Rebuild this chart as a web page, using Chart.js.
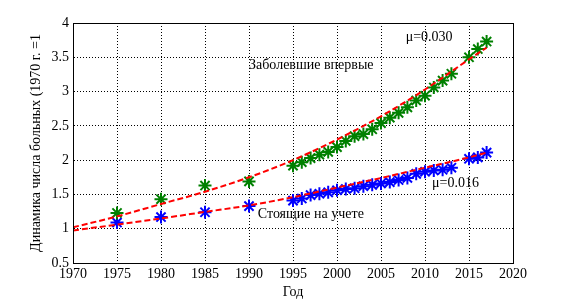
<!DOCTYPE html>
<html lang="ru">
<head>
<meta charset="UTF-8">
<title>Динамика числа больных</title>
<script src="https://cdn.jsdelivr.net/npm/chart.js"></script>
<style>
  html, body { margin: 0; padding: 0; background: #fff; }
</style>
</head>
<body>
<canvas id="grafico" width="568" height="304"></canvas>
<script>
// observed years and values (1970 = 1)
const years = [1975, 1980, 1985, 1990, 1995, 1996, 1997, 1998, 1999, 2000, 2001, 2002, 2003,
               2004, 2005, 2006, 2007, 2008, 2009, 2010, 2011, 2012, 2013, 2015, 2016, 2017];
const newCases = [1.23, 1.43, 1.63, 1.69, 1.92, 1.97, 2.03, 2.08, 2.12, 2.19, 2.28, 2.35, 2.38,
                  2.45, 2.54, 2.62, 2.69, 2.77, 2.87, 2.94, 3.06, 3.16, 3.26, 3.50, 3.62, 3.73];
const registered = [1.09, 1.17, 1.24, 1.33, 1.41, 1.44, 1.49, 1.51, 1.53, 1.56, 1.58, 1.59, 1.62,
                    1.64, 1.66, 1.68, 1.71, 1.74, 1.80, 1.83, 1.85, 1.86, 1.89, 2.02, 2.04, 2.11];

// fitted curves
const fitYears = [1970, 1975, 1980, 1985, 1990, 1995, 2000, 2005, 2010, 2015, 2017];
const fitNew = [1.02, 1.18, 1.36, 1.54, 1.75, 2.00, 2.30, 2.64, 3.03, 3.47, 3.64];
const fitRegistered = [0.975, 1.06, 1.15, 1.245, 1.34, 1.46, 1.60, 1.74, 1.89, 2.04, 2.11];

// axis ticks
const xTicks = [1970, 1975, 1980, 1985, 1990, 1995, 2000, 2005, 2010, 2015, 2020];
const yTicks = [0.5, 1, 1.5, 2, 2.5, 3, 3.5, 4];

// text labels inside the plot (data coordinates)
const labelTexts = ['Заболевшие впервые', 'μ=0.030', 'μ=0.016', 'Стоящие на учете'];
const labelX = [1990, 2007.8, 2010.8, 1991];
const labelY = [3.39, 3.79, 1.66, 1.21];

const serif = "'Liberation Serif', 'Times New Roman', serif";
const fontSize = 14;

function pairs(xs, ys) {
    return xs.map((x, i) => ({ x: x, y: ys[i] }));
}

const frameAndLabels = {
    id: 'frameAndLabels',
    afterDatasetsDraw(chart) {
        const { ctx, chartArea: a, scales } = chart;
        ctx.save();
        ctx.setLineDash([]);
        ctx.strokeStyle = '#000';
        ctx.lineWidth = 1;
        ctx.strokeRect(Math.round(a.left) + 0.5, Math.round(a.top) + 0.5,
                       Math.round(a.right - a.left), Math.round(a.bottom - a.top));
        ctx.fillStyle = '#000';
        ctx.font = fontSize + 'px ' + serif;
        ctx.textAlign = 'left';
        ctx.textBaseline = 'middle';
        labelTexts.forEach((t, i) => {
            ctx.fillText(t, scales.x.getPixelForValue(labelX[i]), scales.y.getPixelForValue(labelY[i]));
        });
        ctx.restore();
    }
};

const lineFit = {
    showLine: true,
    borderColor: '#ff0000',
    borderWidth: 2,
    borderDash: [6, 3],
    pointRadius: 0,
    cubicInterpolationMode: 'monotone',
    fill: false
};

new Chart(document.getElementById('grafico'), {
    type: 'scatter',
    data: {
        datasets: [
            Object.assign({ label: 'fit new', data: pairs(fitYears, fitNew) }, lineFit),
            Object.assign({ label: 'fit registered', data: pairs(fitYears, fitRegistered) }, lineFit),
            {
                label: 'Заболевшие впервые',
                data: pairs(years, newCases),
                pointStyle: 'star',
                pointRadius: 6.5,
                borderWidth: 2,
                borderColor: '#008000',
                backgroundColor: '#008000'
            },
            {
                label: 'Стоящие на учете',
                data: pairs(years, registered),
                pointStyle: 'star',
                pointRadius: 6.5,
                borderWidth: 2,
                borderColor: '#0000ff',
                backgroundColor: '#0000ff'
            }
        ]
    },
    options: {
        responsive: false,
        animation: false,
        devicePixelRatio: 1,
        layout: { padding: { top: 23, right: 55, left: 0, bottom: 0 } },
        plugins: { legend: { display: false }, tooltip: { enabled: false } },
        scales: {
            x: {
                type: 'linear',
                min: 1970,
                max: 2020,
                afterBuildTicks: s => { s.ticks = xTicks.map(v => ({ value: v })); },
                afterFit: s => { s.height = 41; },
                ticks: {
                    color: '#000',
                    padding: 3,
                    maxRotation: 0,
                    font: { family: serif, size: fontSize },
                    callback: v => String(v)
                },
                grid: { color: '#000', drawTicks: false },
                border: { color: '#000', dash: [1, 2] },
                title: {
                    display: true,
                    text: 'Год',
                    color: '#000',
                    font: { family: serif, size: fontSize },
                    padding: { top: 0, bottom: 3 }
                }
            },
            y: {
                min: 0.5,
                max: 4,
                afterBuildTicks: s => { s.ticks = yTicks.map(v => ({ value: v })); },
                afterFit: s => { s.width = 73; },
                ticks: {
                    color: '#000',
                    padding: 4,
                    font: { family: serif, size: fontSize },
                    callback: v => String(v)
                },
                grid: { color: '#000', drawTicks: false },
                border: { color: '#000', dash: [1, 2] },
                title: {
                    display: true,
                    text: 'Динамика числа больных (1970 г. =1',
                    color: '#000',
                    font: { family: serif, size: fontSize },
                    padding: { top: 28, bottom: 0 }
                }
            }
        }
    },
    plugins: [frameAndLabels]
});
</script>
</body>
</html>
